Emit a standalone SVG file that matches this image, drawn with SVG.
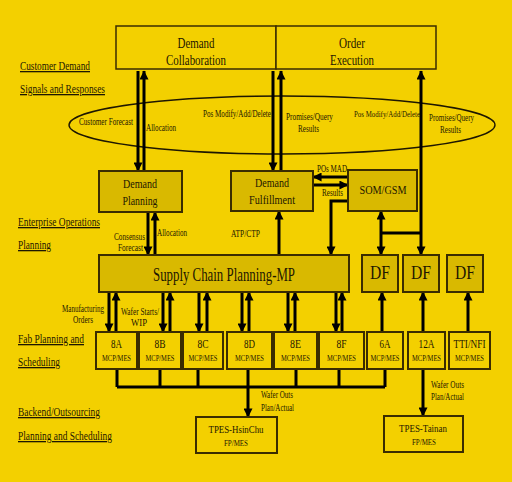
<svg xmlns="http://www.w3.org/2000/svg" width="512" height="482" viewBox="0 0 512 482">
<defs>
<marker id="ah" viewBox="0 0 10 10" refX="9.5" refY="5" markerWidth="10" markerHeight="9" markerUnits="userSpaceOnUse" orient="auto-start-reverse">
<path d="M0,0 L10,5 L0,10 z" fill="#000"/>
</marker>
<style>
.box{fill:#D9B900;stroke:#3a2c00;stroke-width:2}
.fab{fill:#F3D000;stroke:#3a2c00;stroke-width:2}
.top{fill:#F3D000;stroke:#3a2c00;stroke-width:1.5}
text{font-family:"Liberation Serif","Times New Roman",serif;fill:#1e1700}
.lbl{font-size:13px;text-decoration:underline}
.s{font-size:9.5px}
.m{text-anchor:middle}
.c{stroke:#000;stroke-width:3;fill:none}
.a{marker-end:url(#ah)}
.d{marker-start:url(#ah);marker-end:url(#ah)}
</style>
</defs>
<rect width="512" height="482" fill="#F3D000"/>

<g id="labels">
<text class="lbl" x="20" y="70" textLength="70" lengthAdjust="spacingAndGlyphs">Customer Demand</text>
<text class="lbl" x="20" y="93" textLength="85" lengthAdjust="spacingAndGlyphs">Signals and Responses</text>
<text class="lbl" x="18" y="226" textLength="82" lengthAdjust="spacingAndGlyphs">Enterprise Operations</text>
<text class="lbl" x="18" y="249" textLength="33" lengthAdjust="spacingAndGlyphs">Planning</text>
<text class="lbl" x="18" y="343" textLength="66" lengthAdjust="spacingAndGlyphs">Fab Planning and</text>
<text class="lbl" x="18" y="366" textLength="42" lengthAdjust="spacingAndGlyphs">Scheduling</text>
<text class="lbl" x="18" y="416" textLength="82" lengthAdjust="spacingAndGlyphs">Backend/Outsourcing</text>
<text class="lbl" x="18" y="440" textLength="94" lengthAdjust="spacingAndGlyphs">Planning and Scheduling</text>
</g>

<g id="signals">
<ellipse cx="282" cy="125" rx="213" ry="29" fill="none" stroke="#1e1700" stroke-width="1.4"/>
</g>

<g id="connectors">
<path class="c a" d="M138,71 L138,171"/>
<path class="c a" d="M144,171 L144,71"/>
<path class="c a" d="M273,71 L273,171"/>
<path class="c a" d="M281,171 L281,71"/>
<path class="c d" d="M421,71 L421,255"/>
<path class="c" d="M381,233 L421,233"/>
<path class="c d" d="M381,211 L381,255"/>
<path class="c a" d="M348,177 L313,177"/>
<path class="c a" d="M313,185 L348,185"/>
<path class="c a" d="M348,201 L331,201 L331,255"/>
<path class="c a" d="M279,255 L279,211"/>
<path class="c a" d="M148,212 L148,255"/>
<path class="c a" d="M155,255 L155,212"/>
<path class="c a" d="M109,292 L109,332"/>
<path class="c a" d="M116,332 L116,292"/>
<path class="c a" d="M163,292 L163,332"/>
<path class="c a" d="M170,332 L170,292"/>
<path class="c a" d="M199,292 L199,332"/>
<path class="c a" d="M207,332 L207,292"/>
<path class="c a" d="M242,292 L242,332"/>
<path class="c a" d="M249,332 L249,292"/>
<path class="c a" d="M288,292 L288,332"/>
<path class="c a" d="M295,332 L295,292"/>
<path class="c a" d="M336,292 L336,332"/>
<path class="c a" d="M342,332 L342,292"/>
<path class="c a" d="M382,332 L382,292"/>
<path class="c a" d="M423,332 L423,292"/>
<path class="c a" d="M468,332 L468,292"/>
<path class="c" d="M117,369 L117,387 M160,369 L160,387 M198,369 L198,387 M296,369 L296,387 M339,369 L339,387 M385,369 L385,387 M117,387 L385,387"/>
<path class="c a" d="M248,369 L248,417"/>
<path class="c a" d="M423,369 L423,416"/>
</g>

<g id="edge-labels">
<text class="s" x="79" y="125" textLength="54" lengthAdjust="spacingAndGlyphs">Customer Forecast</text>
<text class="s" x="146" y="131" textLength="30" lengthAdjust="spacingAndGlyphs">Allocation</text>
<text class="s" x="203" y="117" textLength="68" lengthAdjust="spacingAndGlyphs">Pos Modify/Add/Delete</text>
<text class="s" x="286" y="120" textLength="47" lengthAdjust="spacingAndGlyphs">Promises/Query</text>
<text class="s" x="298" y="132" textLength="21" lengthAdjust="spacingAndGlyphs">Results</text>
<text x="354" y="117" font-size="8" textLength="66" lengthAdjust="spacingAndGlyphs">Pos Modify/Add/Delete</text>
<text class="s" x="429" y="121" textLength="45" lengthAdjust="spacingAndGlyphs">Promises/Query</text>
<text class="s" x="440" y="133" textLength="21" lengthAdjust="spacingAndGlyphs">Results</text>
<text class="s" x="317" y="172" textLength="30" lengthAdjust="spacingAndGlyphs">POs MAD</text>
<text class="s" x="322" y="196" textLength="21" lengthAdjust="spacingAndGlyphs">Results</text>
<text class="s" x="231" y="237" textLength="29" lengthAdjust="spacingAndGlyphs">ATP/CTP</text>
<text class="s" x="114" y="240" textLength="31" lengthAdjust="spacingAndGlyphs">Consensus</text>
<text class="s" x="118" y="251" textLength="25" lengthAdjust="spacingAndGlyphs">Forecast</text>
<text class="s" x="157" y="236" textLength="30" lengthAdjust="spacingAndGlyphs">Allocation</text>
<text class="s" x="62" y="312" textLength="42" lengthAdjust="spacingAndGlyphs">Manufacturing</text>
<text class="s" x="73" y="323" textLength="20" lengthAdjust="spacingAndGlyphs">Orders</text>
<text class="s" x="121" y="315" textLength="38" lengthAdjust="spacingAndGlyphs">Wafer Starts/</text>
<text class="s" x="131" y="326" textLength="16" lengthAdjust="spacingAndGlyphs">WIP</text>
<text class="s" x="261" y="398" textLength="32" lengthAdjust="spacingAndGlyphs">Wafer Outs</text>
<text class="s" x="261" y="411" textLength="33" lengthAdjust="spacingAndGlyphs">Plan/Actual</text>
<text class="s" x="431" y="388" textLength="33" lengthAdjust="spacingAndGlyphs">Wafer Outs</text>
<text class="s" x="431" y="400" textLength="33" lengthAdjust="spacingAndGlyphs">Plan/Actual</text>
</g>

<g id="demand-collaboration">
<rect class="top" x="116" y="26" width="160" height="43"/>
<text class="m" x="196" y="48" font-size="15" textLength="37" lengthAdjust="spacingAndGlyphs">Demand</text>
<text class="m" x="196" y="65" font-size="15" textLength="60" lengthAdjust="spacingAndGlyphs">Collaboration</text>
</g>
<g id="order-execution">
<rect class="top" x="276" y="26" width="160" height="43"/>
<text class="m" x="352" y="48" font-size="15" textLength="26" lengthAdjust="spacingAndGlyphs">Order</text>
<text class="m" x="352" y="65" font-size="15" textLength="44" lengthAdjust="spacingAndGlyphs">Execution</text>
</g>
<g id="demand-planning">
<rect class="box" x="99" y="171" width="83" height="41"/>
<text class="m" x="140" y="188" font-size="13" textLength="34" lengthAdjust="spacingAndGlyphs">Demand</text>
<text class="m" x="140" y="205" font-size="13" textLength="35" lengthAdjust="spacingAndGlyphs">Planning</text>
</g>
<g id="demand-fulfillment">
<rect class="box" x="231" y="171" width="82" height="40"/>
<text class="m" x="272" y="187" font-size="13" textLength="34" lengthAdjust="spacingAndGlyphs">Demand</text>
<text class="m" x="272" y="204" font-size="13" textLength="46" lengthAdjust="spacingAndGlyphs">Fulfillment</text>
</g>
<g id="som-gsm">
<rect class="box" x="348" y="170" width="69" height="41"/>
<text class="m" x="383" y="194" font-size="13" textLength="47" lengthAdjust="spacingAndGlyphs">SOM/GSM</text>
</g>
<g id="scp-mp">
<rect class="box" x="99" y="255" width="250" height="37"/>
<text class="m" x="224" y="281" font-size="19" textLength="142" lengthAdjust="spacingAndGlyphs">Supply Chain Planning-MP</text>
</g>
<g id="df1">
<rect class="box" x="362" y="255" width="36" height="37"/>
<text class="m" x="380" y="279" font-size="18" textLength="20" lengthAdjust="spacingAndGlyphs">DF</text>
</g>
<g id="df2">
<rect class="box" x="403" y="255" width="36" height="37"/>
<text class="m" x="421" y="279" font-size="18" textLength="20" lengthAdjust="spacingAndGlyphs">DF</text>
</g>
<g id="df3">
<rect class="box" x="447" y="255" width="36" height="37"/>
<text class="m" x="465" y="279" font-size="18" textLength="20" lengthAdjust="spacingAndGlyphs">DF</text>
</g>

<g id="fab-8a"><rect class="fab" x="96" y="332" width="41" height="37"/><text class="m" x="116.5" y="348" font-size="12" textLength="11" lengthAdjust="spacingAndGlyphs">8A</text><text class="m" x="116.5" y="361" font-size="8.5" textLength="29" lengthAdjust="spacingAndGlyphs">MCP/MES</text></g>
<g id="fab-8b"><rect class="fab" x="139" y="332" width="42" height="37"/><text class="m" x="160" y="348" font-size="12" textLength="11" lengthAdjust="spacingAndGlyphs">8B</text><text class="m" x="160" y="361" font-size="8.5" textLength="29" lengthAdjust="spacingAndGlyphs">MCP/MES</text></g>
<g id="fab-8c"><rect class="fab" x="183" y="332" width="40" height="37"/><text class="m" x="203" y="348" font-size="12" textLength="11" lengthAdjust="spacingAndGlyphs">8C</text><text class="m" x="203" y="361" font-size="8.5" textLength="29" lengthAdjust="spacingAndGlyphs">MCP/MES</text></g>
<g id="fab-8d"><rect class="fab" x="227" y="332" width="45" height="37"/><text class="m" x="249.5" y="348" font-size="12" textLength="11" lengthAdjust="spacingAndGlyphs">8D</text><text class="m" x="249.5" y="361" font-size="8.5" textLength="29" lengthAdjust="spacingAndGlyphs">MCP/MES</text></g>
<g id="fab-8e"><rect class="fab" x="274" y="332" width="43" height="37"/><text class="m" x="295.5" y="348" font-size="12" textLength="11" lengthAdjust="spacingAndGlyphs">8E</text><text class="m" x="295.5" y="361" font-size="8.5" textLength="29" lengthAdjust="spacingAndGlyphs">MCP/MES</text></g>
<g id="fab-8f"><rect class="fab" x="319" y="332" width="45" height="37"/><text class="m" x="341.5" y="348" font-size="12" textLength="10" lengthAdjust="spacingAndGlyphs">8F</text><text class="m" x="341.5" y="361" font-size="8.5" textLength="29" lengthAdjust="spacingAndGlyphs">MCP/MES</text></g>
<g id="fab-6a"><rect class="fab" x="367" y="332" width="36" height="37"/><text class="m" x="385" y="348" font-size="12" textLength="11" lengthAdjust="spacingAndGlyphs">6A</text><text class="m" x="385" y="361" font-size="8.5" textLength="29" lengthAdjust="spacingAndGlyphs">MCP/MES</text></g>
<g id="fab-12a"><rect class="fab" x="408" y="332" width="37" height="37"/><text class="m" x="426.5" y="348" font-size="12" textLength="16" lengthAdjust="spacingAndGlyphs">12A</text><text class="m" x="426.5" y="361" font-size="8.5" textLength="29" lengthAdjust="spacingAndGlyphs">MCP/MES</text></g>
<g id="fab-tti-nfi"><rect class="fab" x="449" y="332" width="41" height="37"/><text class="m" x="469.5" y="348" font-size="12" textLength="32" lengthAdjust="spacingAndGlyphs">TTI/NFI</text><text class="m" x="469.5" y="361" font-size="8.5" textLength="29" lengthAdjust="spacingAndGlyphs">MCP/MES</text></g>

<g id="tpes-hsinchu">
<rect class="fab" x="196" y="417" width="81" height="36"/>
<text class="m" x="236" y="433" font-size="11" textLength="55" lengthAdjust="spacingAndGlyphs">TPES-HsinChu</text>
<text class="m" x="236" y="446" font-size="8.5" textLength="24" lengthAdjust="spacingAndGlyphs">FP/MES</text>
</g>
<g id="tpes-tainan">
<rect class="fab" x="384" y="416" width="79" height="36"/>
<text class="m" x="423" y="432" font-size="11" textLength="48" lengthAdjust="spacingAndGlyphs">TPES-Tainan</text>
<text class="m" x="424" y="445" font-size="8.5" textLength="24" lengthAdjust="spacingAndGlyphs">FP/MES</text>
</g>
</svg>
